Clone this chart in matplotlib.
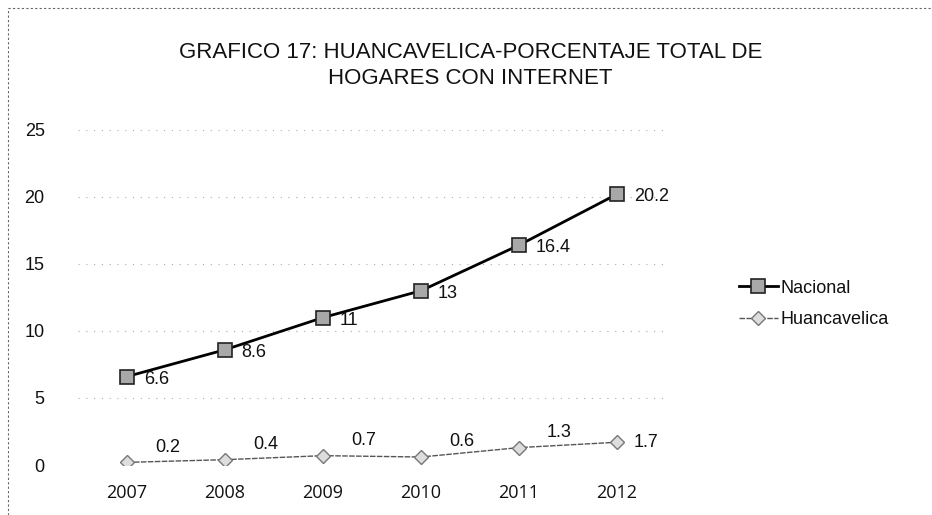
import matplotlib
matplotlib.use("Agg")
import matplotlib.pyplot as plt
from matplotlib.lines import Line2D

years = ["2007", "2008", "2009", "2010", "2011", "2012"]
nacional = [6.6, 8.6, 11, 13, 16.4, 20.2]
huancavelica = [0.2, 0.4, 0.7, 0.6, 1.3, 1.7]
nac_labels = ["6.6", "8.6", "11", "13", "16.4", "20.2"]
huan_labels = ["0.2", "0.4", "0.7", "0.6", "1.3", "1.7"]
title = "GRAFICO 17: HUANCAVELICA-PORCENTAJE TOTAL DE\nHOGARES CON INTERNET"

plt.rcParams['font.family'] = ['Liberation Sans', 'DejaVu Sans']

fig = plt.figure(figsize=(9.32, 5.15), dpi=100)
ax = fig.add_axes([0.0837, 0.097, 0.631, 0.651])

x = list(range(len(years)))
ax.plot(x, nacional, color='black', lw=2.0, marker='s', markersize=10,
        markerfacecolor='#a8a8a8', markeredgecolor='#222222', markeredgewidth=1.2,
        label='Nacional', zorder=3)
ax.plot(x, huancavelica, color='#555555', lw=1.0, ls=(0, (4, 1)), marker='D', markersize=7,
        markerfacecolor='#dddddd', markeredgecolor='#777777', markeredgewidth=1.0,
        label='Huancavelica', zorder=3)

for xi, v, t in zip(x, nacional, nac_labels):
    ax.annotate(t, (xi, v), xytext=(12, -2), textcoords='offset points',
                ha='left', va='center', fontsize=13, color='#111111')
for xi, v, t in zip(x, huancavelica, huan_labels):
    if xi == 5:
        ax.annotate(t, (xi, v), xytext=(12, 0), textcoords='offset points',
                    ha='left', va='center', fontsize=13, color='#111111')
    else:
        ax.annotate(t, (xi, v), xytext=(20, 11), textcoords='offset points',
                    ha='left', va='center', fontsize=13, color='#111111')

ax.set_xlim(-0.5, 5.5)
ax.set_ylim(0, 25)
ax.set_yticks([0, 5, 10, 15, 20, 25])
ax.set_xticks(x)
ax.set_xticklabels(years, fontfamily='Open Sans', fontsize=13)
ax.tick_params(axis='y', labelsize=13, labelcolor='#111111', length=0, pad=24)
ax.tick_params(axis='x', length=0, pad=14, labelcolor='#111111')
for s in ax.spines.values():
    s.set_visible(False)
ax.grid(axis='y', ls=(0, (1, 6)), color='#aaaaaa', lw=0.8)
ax.set_axisbelow(True)

fig.text(0.505, 0.873, title, ha='center', va='center', fontsize=16,
         color='#111111', linespacing=1.35)

leg = fig.legend(handles=ax.get_lines(), loc='center left', bbox_to_anchor=(0.775, 0.41),
                 frameon=False, fontsize=13, handlelength=2.2, handletextpad=0.1,
                 labelspacing=0.8)
for t in leg.get_texts():
    t.set_color('#111111')

# scanned-page border
fig.add_artist(Line2D([0.009, 0.009], [0.0, 0.985], transform=fig.transFigure,
                      color='#666666', lw=0.8, ls=(0, (2, 2))))
fig.add_artist(Line2D([0.009, 1.0], [0.985, 0.985], transform=fig.transFigure,
                      color='#666666', lw=0.8, ls=(0, (2, 2))))

fig.savefig("out.png", dpi=100)
